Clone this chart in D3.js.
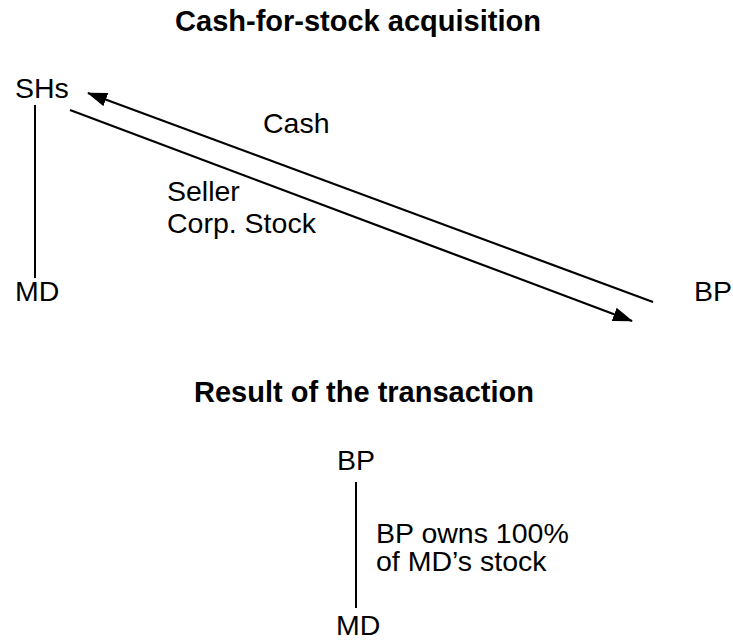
<!DOCTYPE html>
<html>
<head>
<meta charset="utf-8">
<script src="https://cdn.jsdelivr.net/npm/d3@7"></script>
<style>
  body { margin: 0; background: #fff; }
  svg text { font-family: "Liberation Sans", Arial, sans-serif; fill: #000; }
</style>
</head>
<body>
<svg id="diagram" width="733" height="641"></svg>
<script>
// Diagram content
var titles = ["Cash-for-stock acquisition", "Result of the transaction"];
var topNodes = ["SHs", "MD", "BP"];
var flowLabels = [["Cash"], ["Seller", "Corp. Stock"]];
var resultNodes = ["BP", "MD"];
var ownershipNote = ["BP owns 100%", "of MD\u2019s stock"];

var FONT = "28.5px";
var TITLE_FONT = "29px";

var svg = d3.select("#diagram");

// top diagram: row 0 = SHs, row 1 = MD / BP
var yTop = d3.scaleLinear().domain([0, 1]).range([98, 301]);
// result diagram: row 0 = BP, row 1 = MD
var yRes = d3.scaleLinear().domain([0, 1]).range([470, 635]);

var defs = svg.append("defs");
defs.append("marker")
    .attr("id", "head")
    .attr("viewBox", "0 0 20 14")
    .attr("refX", 19)
    .attr("refY", 7)
    .attr("markerWidth", 20)
    .attr("markerHeight", 14)
    .attr("markerUnits", "userSpaceOnUse")
    .attr("orient", "auto")
  .append("path")
    .attr("d", "M0,0 L20,7 L0,14 Z")
    .attr("fill", "#000");

// ##### Titles #####
svg.append("text")
    .attr("x", 358).attr("y", 31)
    .attr("text-anchor", "middle")
    .style("font-size", TITLE_FONT).style("font-weight", "bold")
    .text(titles[0]);

svg.append("text")
    .attr("x", 364).attr("y", 402)
    .attr("text-anchor", "middle")
    .style("font-size", TITLE_FONT).style("font-weight", "bold")
    .text(titles[1]);

// ##### Top diagram #####
svg.append("text").attr("x", 15).attr("y", yTop(0)).style("font-size", FONT).text(topNodes[0]);
svg.append("text").attr("x", 15).attr("y", yTop(1)).style("font-size", FONT).text(topNodes[1]);
svg.append("text").attr("x", 694).attr("y", yTop(1)).style("font-size", FONT).text(topNodes[2]);

svg.append("line")
    .attr("x1", 35).attr("y1", yTop(0) + 7)
    .attr("x2", 35).attr("y2", yTop(1) - 23)
    .attr("stroke", "#000").attr("stroke-width", 2);

// Cash: BP -> SHs
svg.append("line")
    .attr("x1", 653).attr("y1", 302)
    .attr("x2", 88).attr("y2", 93)
    .attr("stroke", "#000").attr("stroke-width", 2.2)
    .attr("marker-end", "url(#head)");

// Stock: SHs -> BP
svg.append("line")
    .attr("x1", 70).attr("y1", 110)
    .attr("x2", 632).attr("y2", 321)
    .attr("stroke", "#000").attr("stroke-width", 2.2)
    .attr("marker-end", "url(#head)");

svg.append("text").attr("x", 263).attr("y", 133).style("font-size", FONT).text(flowLabels[0][0]);

svg.append("text")
    .attr("x", 167).attr("y", 201)
    .style("font-size", FONT)
  .selectAll("tspan")
  .data(flowLabels[1])
  .enter().append("tspan")
    .attr("x", 167)
    .attr("dy", function (d, i) { return i === 0 ? 0 : 32; })
    .text(function (d) { return d; });

// ##### Result diagram #####
svg.append("text").attr("x", 337).attr("y", yRes(0)).style("font-size", FONT).text(resultNodes[0]);
svg.append("text").attr("x", 336).attr("y", yRes(1)).style("font-size", FONT).text(resultNodes[1]);

svg.append("line")
    .attr("x1", 356).attr("y1", yRes(0) + 12)
    .attr("x2", 356).attr("y2", yRes(1) - 27)
    .attr("stroke", "#000").attr("stroke-width", 2);

svg.append("text")
    .attr("x", 376).attr("y", 543)
    .style("font-size", FONT)
  .selectAll("tspan")
  .data(ownershipNote)
  .enter().append("tspan")
    .attr("x", 376)
    .attr("dy", function (d, i) { return i === 0 ? 0 : 28; })
    .text(function (d) { return d; });
</script>
</body>
</html>
